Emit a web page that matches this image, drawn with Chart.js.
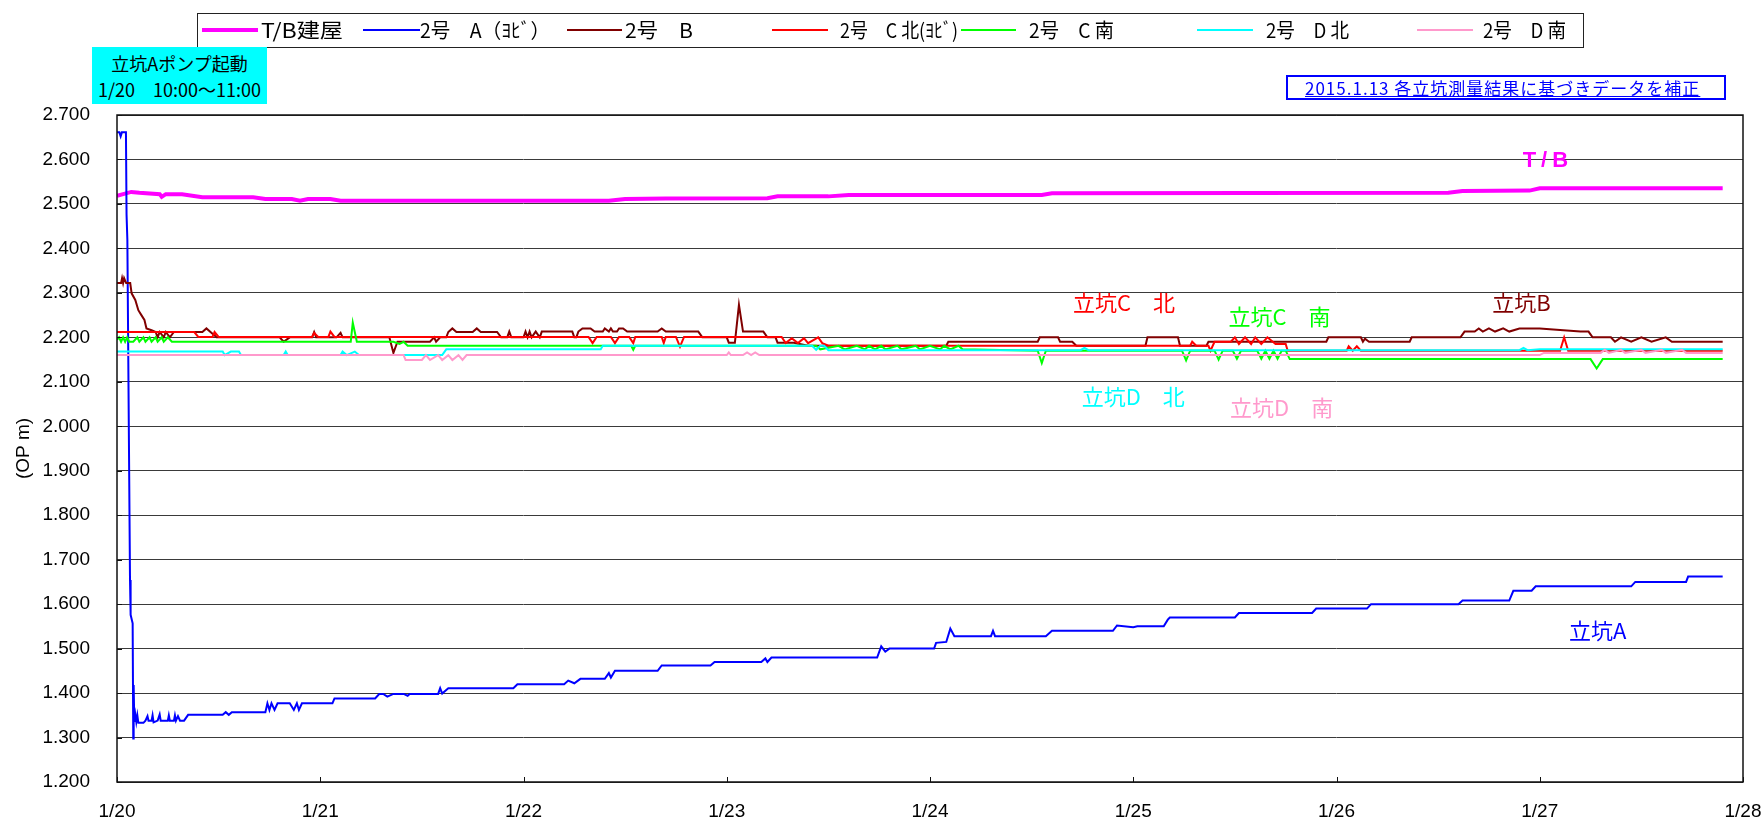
<!DOCTYPE html>
<html lang="ja">
<head>
<meta charset="utf-8">
<title>2号 立坑 水位</title>
<script src="https://cdn.jsdelivr.net/npm/chart.js@4.4.1/dist/chart.umd.min.js"></script>
<style>
  html, body { margin: 0; padding: 0; background: #fff; }
  #wrap { position: relative; width: 1761px; height: 819px; overflow: hidden; font-family: "Noto Sans CJK JP", sans-serif; color: #000; }
  #chart { position: absolute; left: 0; top: 0; }
  #legend { position: absolute; left: 197px; top: 13px; width: 1385px; height: 33px; border: 1px solid #222; }
  .lg-line { position: absolute; top: 30px; }
  .lg-text { position: absolute; top: 16px; font-size: 20px; line-height: 28px; white-space: pre; transform-origin: 0 50%; }
  #pump { position: absolute; left: 92px; top: 47px; width: 175px; height: 54px; padding-top: 3px; background: #00ffff; font-size: 18px; line-height: 26px; text-align: center; white-space: pre; }
  #note { position: absolute; left: 1286px; top: 75px; width: 419px; height: 21px; border: 2px solid #0000ff; color: #0000ff; font-size: 17px; line-height: 21px; text-decoration: underline; padding-left: 17px; white-space: pre; letter-spacing: 1px; }
</style>
</head>
<body>
<div id="wrap">
  <canvas id="chart" width="1761" height="819"></canvas>
  <div id="legend"></div>
  <div id="pump">立坑Aポンプ起動
1/20　10:00～11:00</div>
  <div id="note">2015.1.13 各立坑測量結果に基づきデータを補正</div>
</div>
<script>
// days counted from 1/20 0:00
const dayLabels = ['1/20', '1/21', '1/22', '1/23', '1/24', '1/25', '1/26', '1/27', '1/28'];
const levelTicks = [1.2, 1.3, 1.4, 1.5, 1.6, 1.7, 1.8, 1.9, 2.0, 2.1, 2.2, 2.3, 2.4, 2.5, 2.6, 2.7];
const seriesNames = ['T/B建屋', '2号　A（ﾖﾋﾞ）', '2号　B', '2号　C 北(ﾖﾋﾞ)', '2号　C 南', '2号　D 北', '2号　D 南'];

const tbLevel = [[0,2.518],[0.07,2.527],[0.11,2.525],[0.21,2.522],[0.22,2.516],[0.24,2.522],[0.32,2.522],[0.42,2.515],[0.67,2.515],[0.73,2.511],[0.86,2.511],[0.9,2.507],[0.94,2.511],[1.05,2.511],[1.1,2.507],[2.42,2.507],[2.5,2.511],[2.7,2.512],[3.2,2.513],[3.25,2.517],[3.5,2.517],[3.6,2.52],[4.55,2.52],[4.6,2.524],[6.55,2.525],[6.62,2.529],[6.95,2.53],[7.0,2.535],[7.9,2.535]];

const aLevel = [[0,2.661],[0.012,2.661],[0.018,2.652],[0.024,2.661],[0.044,2.661],[0.047,2.476],[0.051,2.419],[0.064,1.654],[0.067,1.576],[0.077,1.557],[0.08,1.298],[0.082,1.418],[0.085,1.335],[0.09,1.352],[0.095,1.335],[0.1,1.35],[0.105,1.333],[0.13,1.333],[0.14,1.338],[0.15,1.348],[0.155,1.338],[0.17,1.338],[0.175,1.35],[0.18,1.334],[0.2,1.338],[0.21,1.352],[0.215,1.338],[0.25,1.338],[0.255,1.35],[0.26,1.338],[0.28,1.338],[0.285,1.35],[0.29,1.338],[0.3,1.348],[0.31,1.338],[0.33,1.338],[0.35,1.351],[0.52,1.351],[0.535,1.357],[0.55,1.351],[0.565,1.357],[0.73,1.357],[0.74,1.377],[0.75,1.362],[0.76,1.377],[0.775,1.362],[0.79,1.377],[0.85,1.377],[0.87,1.362],[0.885,1.377],[0.895,1.362],[0.91,1.377],[1.06,1.377],[1.07,1.388],[1.27,1.388],[1.29,1.398],[1.31,1.398],[1.33,1.392],[1.36,1.398],[1.41,1.398],[1.43,1.394],[1.44,1.398],[1.58,1.398],[1.59,1.411],[1.6,1.399],[1.63,1.411],[1.95,1.411],[1.97,1.42],[2.2,1.42],[2.22,1.428],[2.25,1.422],[2.28,1.432],[2.4,1.432],[2.42,1.445],[2.43,1.435],[2.45,1.45],[2.66,1.45],[2.68,1.462],[2.92,1.462],[2.94,1.47],[3.17,1.47],[3.19,1.478],[3.2,1.47],[3.22,1.48],[3.74,1.48],[3.76,1.505],[3.78,1.493],[3.8,1.5],[4.02,1.5],[4.03,1.513],[4.08,1.515],[4.1,1.545],[4.12,1.528],[4.3,1.528],[4.31,1.54],[4.32,1.528],[4.57,1.528],[4.6,1.54],[4.9,1.54],[4.92,1.552],[5.0,1.548],[5.02,1.55],[5.15,1.55],[5.17,1.565],[5.18,1.57],[5.5,1.57],[5.52,1.58],[5.88,1.58],[5.9,1.59],[6.15,1.59],[6.17,1.6],[6.6,1.6],[6.62,1.608],[6.85,1.608],[6.87,1.63],[6.96,1.63],[6.98,1.64],[7.45,1.64],[7.47,1.65],[7.72,1.65],[7.73,1.662],[7.9,1.662]];

const bLevel = [[0,2.322],[0.02,2.322],[0.025,2.333],[0.03,2.322],[0.035,2.333],[0.045,2.322],[0.065,2.322],[0.072,2.299],[0.09,2.284],[0.105,2.261],[0.12,2.25],[0.135,2.239],[0.145,2.22],[0.17,2.216],[0.19,2.212],[0.2,2.2],[0.21,2.212],[0.23,2.2],[0.24,2.212],[0.26,2.2],[0.28,2.212],[0.42,2.212],[0.44,2.22],[0.46,2.212],[0.49,2.2],[0.8,2.2],[0.82,2.19],[0.85,2.2],[0.96,2.2],[0.97,2.212],[0.98,2.2],[1.08,2.2],[1.1,2.21],[1.11,2.2],[1.34,2.2],[1.36,2.165],[1.38,2.19],[1.54,2.19],[1.56,2.2],[1.57,2.19],[1.59,2.2],[1.62,2.2],[1.63,2.212],[1.65,2.22],[1.67,2.212],[1.75,2.212],[1.77,2.22],[1.79,2.212],[1.87,2.212],[1.89,2.2],[1.92,2.2],[1.93,2.213],[1.94,2.2],[2.0,2.2],[2.01,2.213],[2.02,2.2],[2.03,2.213],[2.04,2.2],[2.06,2.213],[2.08,2.2],[2.09,2.213],[2.24,2.213],[2.25,2.2],[2.26,2.2],[2.27,2.213],[2.29,2.22],[2.33,2.22],[2.35,2.213],[2.39,2.213],[2.4,2.22],[2.42,2.213],[2.43,2.22],[2.44,2.213],[2.46,2.213],[2.47,2.22],[2.49,2.22],[2.51,2.213],[2.66,2.213],[2.68,2.22],[2.7,2.213],[2.86,2.213],[2.88,2.2],[3.0,2.2],[3.01,2.188],[3.04,2.188],[3.06,2.273],[3.08,2.213],[3.18,2.213],[3.2,2.2],[3.24,2.2],[3.25,2.188],[3.33,2.188],[3.4,2.181],[4.08,2.181],[4.09,2.19],[4.53,2.19],[4.54,2.2],[4.63,2.2],[4.64,2.19],[4.7,2.19],[4.72,2.181],[5.06,2.181],[5.07,2.2],[5.22,2.2],[5.23,2.181],[5.36,2.181],[5.37,2.19],[5.95,2.19],[5.96,2.2],[6.12,2.2],[6.13,2.19],[6.14,2.197],[6.16,2.19],[6.36,2.19],[6.37,2.2],[6.61,2.2],[6.63,2.213],[6.68,2.213],[6.7,2.22],[6.72,2.213],[6.75,2.22],[6.78,2.213],[6.82,2.22],[6.85,2.213],[6.9,2.22],[7.0,2.22],[7.2,2.213],[7.24,2.213],[7.26,2.2],[7.35,2.2],[7.37,2.19],[7.4,2.2],[7.45,2.19],[7.5,2.2],[7.55,2.19],[7.62,2.2],[7.65,2.19],[7.9,2.19]];

const cNorthLevel = [[0,2.212],[0.38,2.212],[0.4,2.201],[0.47,2.201],[0.48,2.212],[0.5,2.201],[0.96,2.201],[0.97,2.21],[0.99,2.201],[1.04,2.201],[1.05,2.213],[1.07,2.201],[2.32,2.201],[2.34,2.187],[2.36,2.201],[2.43,2.201],[2.45,2.187],[2.47,2.201],[2.52,2.201],[2.54,2.187],[2.55,2.201],[2.68,2.201],[2.69,2.187],[2.7,2.201],[2.75,2.201],[2.77,2.179],[2.79,2.201],[3.27,2.201],[3.29,2.187],[3.32,2.198],[3.35,2.187],[3.38,2.198],[3.4,2.187],[3.45,2.2],[3.47,2.187],[3.5,2.181],[5.28,2.181],[5.29,2.19],[5.31,2.181],[5.37,2.181],[5.38,2.17],[5.4,2.19],[5.48,2.19],[5.5,2.2],[5.52,2.185],[5.55,2.2],[5.58,2.185],[5.6,2.2],[5.63,2.185],[5.66,2.2],[5.7,2.185],[5.75,2.185],[5.76,2.17],[6.05,2.17],[6.06,2.18],[6.08,2.17],[6.1,2.18],[6.12,2.17],[7.1,2.17],[7.12,2.2],[7.14,2.17],[7.9,2.17]];

const cSouthLevel = [[0,2.195],[0.01,2.2],[0.02,2.19],[0.03,2.2],[0.04,2.19],[0.05,2.2],[0.06,2.19],[0.08,2.19],[0.1,2.2],[0.11,2.19],[0.13,2.2],[0.14,2.19],[0.16,2.2],[0.17,2.19],[0.19,2.2],[0.2,2.19],[0.22,2.2],[0.23,2.19],[0.25,2.2],[0.27,2.19],[1.15,2.19],[1.16,2.233],[1.18,2.19],[1.36,2.19],[1.39,2.185],[1.41,2.19],[1.43,2.181],[2.53,2.181],[2.54,2.172],[2.55,2.181],[3.44,2.181],[3.46,2.173],[3.55,2.181],[3.58,2.173],[3.64,2.181],[3.68,2.173],[3.7,2.181],[3.73,2.173],[3.76,2.181],[3.78,2.173],[3.84,2.181],[3.86,2.173],[3.93,2.181],[3.95,2.173],[4.0,2.181],[4.05,2.173],[4.07,2.181],[4.1,2.173],[4.14,2.181],[4.16,2.173],[4.53,2.17],[4.55,2.142],[4.57,2.17],[5.24,2.17],[5.26,2.148],[5.28,2.17],[5.4,2.17],[5.42,2.15],[5.44,2.17],[5.49,2.17],[5.51,2.152],[5.53,2.17],[5.61,2.17],[5.63,2.152],[5.65,2.17],[5.67,2.152],[5.69,2.17],[5.71,2.152],[5.73,2.17],[5.75,2.17],[5.77,2.151],[7.25,2.151],[7.28,2.13],[7.31,2.151],[7.9,2.151]];

const dNorthLevel = [[0,2.168],[0.52,2.168],[0.53,2.16],[0.56,2.168],[0.6,2.168],[0.61,2.16],[0.82,2.16],[0.83,2.168],[0.84,2.16],[1.1,2.16],[1.11,2.168],[1.13,2.16],[1.17,2.168],[1.19,2.16],[1.6,2.16],[1.62,2.173],[2.38,2.173],[2.39,2.181],[3.42,2.181],[3.44,2.172],[3.46,2.181],[3.48,2.181],[3.5,2.171],[4.74,2.171],[4.76,2.176],[4.78,2.171],[6.9,2.171],[6.92,2.176],[6.94,2.171],[7.0,2.173],[7.9,2.173]];

const dSouthLevel = [[0,2.16],[1.41,2.16],[1.42,2.149],[1.5,2.149],[1.52,2.16],[1.54,2.149],[1.58,2.16],[1.6,2.149],[1.63,2.16],[1.65,2.149],[1.68,2.16],[1.7,2.149],[1.72,2.16],[3.0,2.16],[3.01,2.166],[3.02,2.16],[3.08,2.16],[3.1,2.166],[3.12,2.16],[3.14,2.166],[3.16,2.16],[7.0,2.16],[7.02,2.165],[7.3,2.165],[7.32,2.172],[7.34,2.165],[7.4,2.172],[7.42,2.165],[7.5,2.172],[7.52,2.165],[7.6,2.172],[7.62,2.165],[7.7,2.172],[7.72,2.165],[7.9,2.165]];

const seriesData = [tbLevel, aLevel, bLevel, cNorthLevel, cSouthLevel, dNorthLevel, dSouthLevel];
const seriesColors = ['#ff00ff', '#0000ff', '#800000', '#ff0000', '#00ff00', '#00ffff', '#ff99cc'];
const seriesWidths = [4, 2, 2, 2, 2, 2, 2];

// in-plot labels: [text, day, level, colour, bold]
const plotLabels = [
  ['T/B', 7.04, 2.596, '#ff00ff', true],
  ['立坑C　北', 4.955, 2.277, '#ff0000', false],
  ['立坑C　南', 5.72, 2.246, '#00ff00', false],
  ['立坑B', 6.91, 2.277, '#800000', false],
  ['立坑D　北', 5.0, 2.066, '#00ffff', false],
  ['立坑D　南', 5.73, 2.041, '#ff99cc', false],
  ['立坑A', 7.285, 1.54, '#0000ff', false]
];

// legend layout: line start, line end, text start, text width (px)
const legendSlots = [[202, 258, 261, 82], [363, 420, 420, 130], [567, 622, 625, 68], [772, 828, 840, 118], [961, 1016, 1029, 85], [1197, 1253, 1266, 83], [1417, 1473, 1483, 83]];

const framePlugin = {
  id: 'frame',
  afterDatasetsDraw(chart) {
    const { ctx, chartArea: a, scales } = chart;
    ctx.save();
    ctx.strokeStyle = '#111';
    ctx.lineWidth = 1.5;
    ctx.strokeRect(a.left, a.top, a.right - a.left, a.bottom - a.top);
    // short inner tick marks
    ctx.lineWidth = 1;
    scales.x.ticks.forEach(t => {
      const px = Math.round(scales.x.getPixelForValue(t.value)) + 0.5;
      ctx.beginPath();
      ctx.moveTo(px, a.bottom);
      ctx.lineTo(px, a.bottom - 5);
      ctx.stroke();
    });
    scales.y.ticks.forEach(t => {
      const py = Math.round(scales.y.getPixelForValue(t.value)) + 0.5;
      ctx.beginPath();
      ctx.moveTo(a.left, py);
      ctx.lineTo(a.left + 5, py);
      ctx.stroke();
    });
    ctx.restore();
  },
  afterDraw(chart) {
    const { ctx, scales } = chart;
    ctx.save();
    ctx.textAlign = 'center';
    ctx.textBaseline = 'middle';
    plotLabels.forEach(([txt, d, v, col, bold]) => {
      ctx.font = bold ? 'bold 22px "Liberation Sans", sans-serif' : '22px "Noto Sans CJK JP", sans-serif';
      ctx.letterSpacing = bold ? '5px' : '0px';
      ctx.fillStyle = col;
      ctx.fillText(txt, scales.x.getPixelForValue(d), scales.y.getPixelForValue(v));
    });
    ctx.restore();
  }
};

const chart = new Chart(document.getElementById('chart').getContext('2d'), {
  type: 'line',
  data: {
    datasets: seriesData.map((arr, i) => ({
      label: seriesNames[i],
      data: arr.map(p => ({ x: p[0], y: p[1] })),
      borderColor: seriesColors[i],
      backgroundColor: seriesColors[i],
      borderWidth: seriesWidths[i],
      pointRadius: 0,
      tension: 0,
      fill: false,
      order: seriesData.length - i
    }))
  },
  options: {
    responsive: false,
    animation: false,
    events: [],
    layout: { padding: { top: 115, right: 18, left: 0, bottom: 0 } },
    plugins: { legend: { display: false }, tooltip: { enabled: false } },
    scales: {
      x: {
        type: 'linear',
        min: 0,
        max: 8,
        afterBuildTicks: s => { s.ticks = dayLabels.map((_, i) => ({ value: i })); },
        afterFit: s => { s.height = 37; s.paddingLeft = 0; s.paddingRight = 0; },
        grid: { display: false, drawTicks: false },
        border: { display: false },
        ticks: {
          callback: v => dayLabels[v],
          font: { family: '"Liberation Sans", Arial, sans-serif', size: 19 },
          color: '#000',
          padding: 18,
          maxRotation: 0,
          autoSkip: false
        }
      },
      y: {
        min: 1.2,
        max: 2.7,
        afterBuildTicks: s => { s.ticks = levelTicks.map(v => ({ value: v })); },
        afterFit: s => { s.width = 117; s.paddingTop = 0; s.paddingBottom = 0; },
        grid: { color: '#3a3a3a', lineWidth: 1, drawTicks: false },
        border: { display: false },
        ticks: {
          callback: v => Number(v).toFixed(3),
          font: { family: '"Liberation Sans", Arial, sans-serif', size: 19 },
          color: '#000',
          padding: 27
        },
        title: {
          display: true,
          text: '(OP m)',
          font: { family: '"Liberation Sans", Arial, sans-serif', size: 19 },
          color: '#000',
          padding: { top: 12, bottom: 0 }
        }
      }
    }
  },
  plugins: [framePlugin]
});

// legend built from the datasets; text squeezed to the narrow widths of the original
const wrap = document.getElementById('wrap');
chart.data.datasets.forEach((ds, i) => {
  const [l0, l1, tx, tw] = legendSlots[i];
  const line = document.createElement('div');
  line.className = 'lg-line';
  line.style.left = l0 + 'px';
  line.style.width = (l1 - l0) + 'px';
  line.style.height = ds.borderWidth + 'px';
  line.style.marginTop = (-ds.borderWidth / 2) + 'px';
  line.style.background = ds.borderColor;
  wrap.appendChild(line);
  const txt = document.createElement('div');
  txt.className = 'lg-text';
  txt.style.left = tx + 'px';
  txt.textContent = ds.label;
  wrap.appendChild(txt);
  const w = txt.getBoundingClientRect().width;
  if (w > 0) txt.style.transform = 'scaleX(' + (tw / w).toFixed(3) + ')';
});
</script>
</body>
</html>
